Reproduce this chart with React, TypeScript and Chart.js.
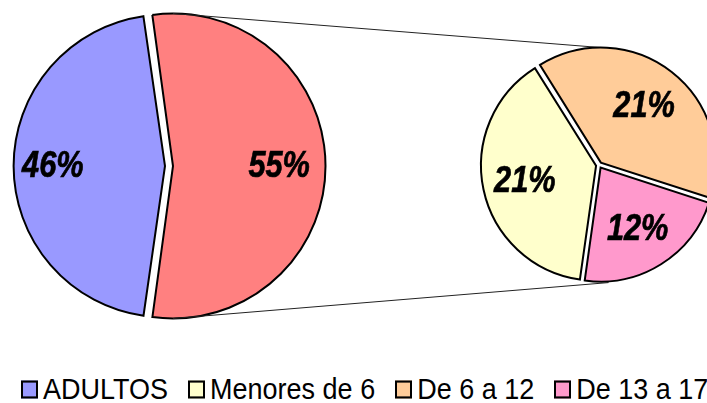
import React, { useEffect, useRef } from "react";
import { Chart, registerables } from "chart.js";

Chart.register(...registerables);

// ---- data ----
const mainCategories = ["ADULTOS", "Menores de 18"];
const mainValues = [46, 55];
const subCategories = ["Menores de 6", "De 6 a 12", "De 13 a 17"];
const subValues = [21, 21, 12];
const legendLabels = ["ADULTOS", "Menores de 6", "De 6 a 12", "De 13 a 17"];

// ---- styles ----
const mainColors = ["#9999FF", "#FF8080"];
const subColors = ["#FFFFCC", "#FFCC99", "#FF99CC"];
const legendColors = ["#9999FF", "#FFFFCC", "#FFCC99", "#FF99CC"];

const W = 707;
const H = 403;
const CANVAS_H = 340;
const FONT = '"Liberation Sans", Arial, Helvetica, sans-serif';

function arcGeom(arc: any) {
  const p = arc.getProps(["x", "y", "startAngle", "endAngle", "outerRadius", "circumference"], true);
  const off = (arc.options.offset || 0) / 4;
  const mid = (p.startAngle + p.endAngle) / 2;
  const fix = 1 - Math.sin(Math.min(Math.PI, p.circumference || 0));
  return {
    cx: p.x + Math.cos(mid) * off,
    cy: p.y + Math.sin(mid) * off,
    R: p.outerRadius + off * fix,
    start: p.startAngle,
    end: p.endAngle,
    mid,
    outer: p.outerRadius,
  };
}

function pointAt(chart: any, theta: number) {
  const arcs = chart.getDatasetMeta(0).data;
  for (const arc of arcs) {
    const g = arcGeom(arc);
    let t = theta;
    while (t < g.start) t += Math.PI * 2;
    while (t > g.start + Math.PI * 2) t -= Math.PI * 2;
    if (t <= g.end) {
      return { x: g.cx + Math.cos(theta) * g.R, y: g.cy + Math.sin(theta) * g.R };
    }
  }
  const g = arcGeom(arcs[0]);
  return { x: g.cx + Math.cos(theta) * g.R, y: g.cy + Math.sin(theta) * g.R };
}

const labelPlugin = {
  id: "pieLabels",
  afterDatasetsDraw(chart: any, _args: any, opts: any) {
    const ctx = chart.ctx;
    const meta = chart.getDatasetMeta(0);
    const values = chart.data.datasets[0].data;
    meta.data.forEach((arc: any, i: number) => {
      const g = arcGeom(arc);
      const r = g.outer * (opts.factor || 0.65);
      const px = g.cx + Math.cos(g.mid) * r + (opts.dx || 0);
      const py = g.cy + Math.sin(g.mid) * r;
      ctx.save();
      ctx.translate(px, py);
      ctx.scale(0.83, 1);
      ctx.font = `italic bold 37px ${FONT}`;
      ctx.textAlign = "center";
      ctx.textBaseline = "middle";
      ctx.fillStyle = "#000";
      ctx.strokeStyle = "#000";
      ctx.lineWidth = 0.7;
      ctx.fillText(`${values[i]}%`, 0, 1);
      ctx.strokeText(`${values[i]}%`, 0, 1);
      ctx.restore();
    });
  },
};

export default function App() {
  const refA = useRef<HTMLCanvasElement | null>(null);
  const refB = useRef<HTMLCanvasElement | null>(null);

  useEffect(() => {
    if (!refA.current || !refB.current) return;
    const chartA = new Chart(refA.current, {
      type: "pie",
      data: {
        labels: mainCategories,
        datasets: [
          {
            data: mainValues,
            backgroundColor: mainColors,
            borderColor: "#000",
            borderWidth: 2,
            offset: 16,
            borderJoinStyle: "miter",
          } as any,
        ],
      },
      options: {
        responsive: false,
        animation: false,
        events: [],
        rotation: 188,
        radius: 148.5,
        layout: { padding: { left: 0, top: 0, right: W - 338, bottom: CANVAS_H - 332 } },
        plugins: {
          legend: { display: false },
          tooltip: { enabled: false },
          pieLabels: { factor: 0.735, dx: -3 },
        } as any,
      } as any,
      plugins: [labelPlugin],
    });

    const connectorPlugin = {
      id: "connectors",
      beforeDatasetsDraw(chart: any) {
        const ctx = chart.ctx;
        const a1 = pointAt(chartA, -Math.PI / 2);
        const a2 = pointAt(chartA, Math.PI / 2);
        const b1 = pointAt(chart, -Math.PI / 2);
        const b2 = pointAt(chart, Math.PI / 2);
        ctx.save();
        ctx.strokeStyle = "#222";
        ctx.lineWidth = 1;
        ctx.beginPath();
        ctx.moveTo(a1.x, a1.y);
        ctx.lineTo(b1.x, b1.y);
        ctx.moveTo(a2.x, a2.y);
        ctx.lineTo(b2.x + 8, b2.y + 1);
        ctx.stroke();
        ctx.restore();
      },
    };

    const chartB = new Chart(refB.current, {
      type: "pie",
      data: {
        labels: subCategories,
        datasets: [
          {
            data: subValues,
            backgroundColor: subColors,
            borderColor: "#000",
            borderWidth: 2,
            offset: 12,
            borderJoinStyle: "miter",
          } as any,
        ],
      },
      options: {
        responsive: false,
        animation: false,
        events: [],
        rotation: 188,
        radius: 114,
        layout: { padding: { left: 398, top: 0, right: 0, bottom: CANVAS_H - 330 } },
        plugins: {
          legend: { display: false },
          tooltip: { enabled: false },
          pieLabels: { factor: 0.63, dx: -1 },
        } as any,
      } as any,
      plugins: [labelPlugin, connectorPlugin],
    });

    return () => {
      chartB.destroy();
      chartA.destroy();
    };
  }, []);

  return (
    <div
      style={{
        position: "fixed",
        left: 0,
        top: 0,
        width: W,
        height: H,
        overflow: "hidden",
        background: "#fff",
      }}
    >
      <canvas
        ref={refA}
        width={W}
        height={CANVAS_H}
        style={{ position: "absolute", left: 0, top: 0 }}
      />
      <canvas
        ref={refB}
        width={800}
        height={CANVAS_H}
        style={{ position: "absolute", left: 0, top: 0 }}
      />
      <div
        style={{
          position: "absolute",
          left: 21,
          top: 376,
          display: "flex",
          alignItems: "center",
          whiteSpace: "nowrap",
          fontFamily: FONT,
          fontSize: 27,
          lineHeight: "27px",
          color: "#000",
          transform: "scaleY(1.06)",
          transformOrigin: "left center",
        }}
      >
        {legendLabels.map((lab, i) => (
          <div key={lab} style={{ display: "flex", alignItems: "center", marginRight: 20 }}>
            <span
              style={{
                display: "inline-block",
                width: 17,
                height: 17,
                boxSizing: "border-box",
                border: "2px solid #000",
                background: legendColors[i],
                marginRight: 5,
              }}
            />
            <span>{lab}</span>
          </div>
        ))}
      </div>
    </div>
  );
}
